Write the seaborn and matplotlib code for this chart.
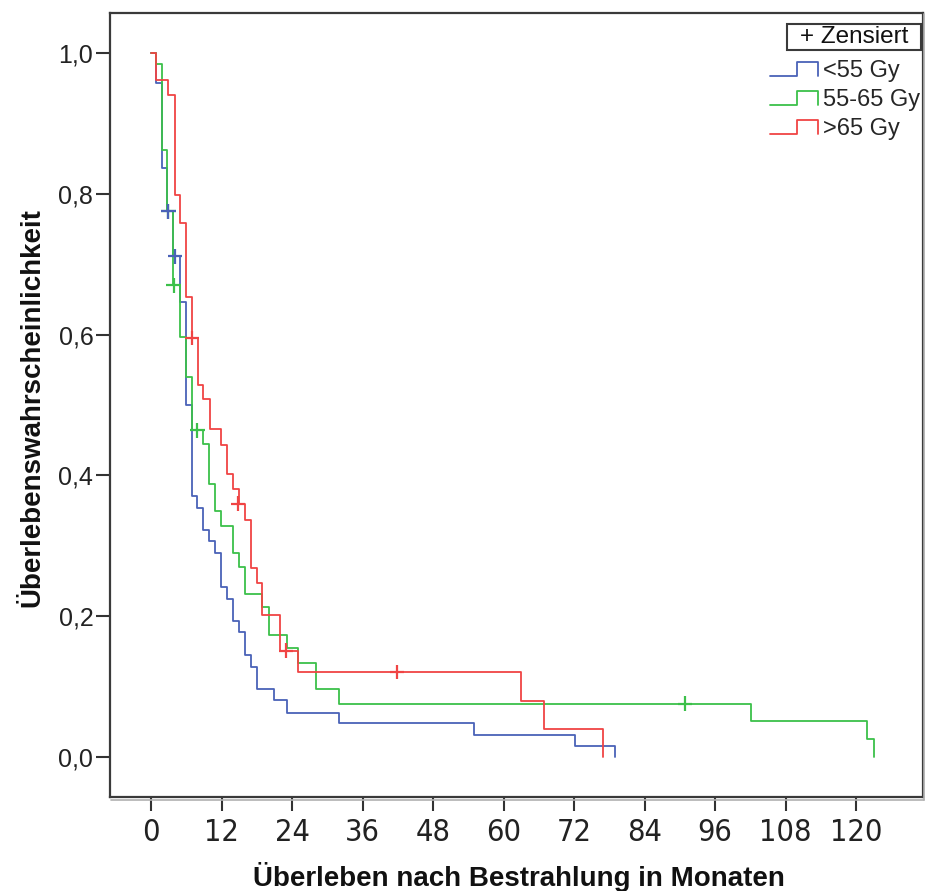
import numpy as np
import pandas as pd
import matplotlib
matplotlib.use("Agg")
import matplotlib.pyplot as plt
import seaborn as sns
from matplotlib import font_manager as fm
from matplotlib.lines import Line2D
from matplotlib.patches import Rectangle
from matplotlib.legend_handler import HandlerBase

# Kaplan-Meier step values per dose group (month of step, survival after step)
groups = ["<55 Gy", "55-65 Gy", ">65 Gy"]
colors = ["#4a62b8", "#3cc04a", "#f04444"]

low_months = [0, 0.85, 1.8, 2.7, 3.8, 4.9, 6.0, 7.0, 7.9, 8.9, 9.9, 10.9, 11.9,
              12.9, 13.9, 15.0, 16.0, 17.0, 18.0, 20.9, 23.1, 32.0, 55.0, 72.1, 79.0]
low_surv = [1.0, 0.957, 0.836, 0.775, 0.711, 0.647, 0.500, 0.371, 0.354, 0.322,
            0.307, 0.290, 0.242, 0.225, 0.193, 0.177, 0.145, 0.128, 0.097, 0.081,
            0.063, 0.048, 0.031, 0.015, 0.0]

mid_months = [0, 0.8, 1.9, 2.8, 3.75, 4.9, 6.0, 6.9, 8.9, 9.9, 10.9, 11.9, 13.9,
              15.0, 16.0, 18.9, 20.0, 23.1, 25.1, 28.0, 32.0, 102.1, 121.9, 123.0]
mid_surv = [1.0, 0.985, 0.862, 0.775, 0.670, 0.597, 0.540, 0.464, 0.445, 0.388,
            0.349, 0.328, 0.290, 0.270, 0.232, 0.213, 0.174, 0.155, 0.134, 0.096,
            0.076, 0.051, 0.025, 0.0]

high_months = [0, 0.9, 2.9, 4.0, 5.0, 6.0, 7.0, 8.05, 8.9, 10.0, 11.9, 13.0, 13.9,
               15.0, 16.0, 17.0, 18.0, 18.9, 21.96, 25.0, 62.9, 66.9, 77.0]
high_surv = [1.0, 0.961, 0.940, 0.798, 0.758, 0.654, 0.595, 0.528, 0.508, 0.466,
             0.443, 0.402, 0.380, 0.360, 0.337, 0.269, 0.247, 0.202, 0.151, 0.121,
             0.080, 0.040, 0.0]

# Censored observations per group
low_cens_months = [2.95, 4.1]
low_cens_surv = [0.775, 0.711]
mid_cens_months = [2.95, 3.85, 7.9, 90.9]
mid_cens_surv = [0.775, 0.670, 0.464, 0.076]
high_cens_months = [7.0, 14.8, 23.0, 41.9]
high_cens_surv = [0.595, 0.360, 0.151, 0.121]

x_ticks = [0, 12, 24, 36, 48, 60, 72, 84, 96, 108, 120]
y_ticks = [0.0, 0.2, 0.4, 0.6, 0.8, 1.0]
y_tick_labels = ["0,0", "0,2", "0,4", "0,6", "0,8", "1,0"]

curves = pd.concat([
    pd.DataFrame({"Monate": m, "Überleben": s, "Gruppe": g})
    for m, s, g in [(low_months, low_surv, groups[0]),
                    (mid_months, mid_surv, groups[1]),
                    (high_months, high_surv, groups[2])]
], ignore_index=True)

# middle group first so the blue crosses sit on top where they coincide
censored = pd.concat([
    pd.DataFrame({"Monate": m, "Überleben": s, "Gruppe": g})
    for m, s, g in [(mid_cens_months, mid_cens_surv, groups[1]),
                    (low_cens_months, low_cens_surv, groups[0]),
                    (high_cens_months, high_cens_surv, groups[2])]
], ignore_index=True)

sns.set_style("white")
plt.rcParams["font.family"] = ["Liberation Sans", "DejaVu Sans"]


def condensed_font(size):
    """Pick a narrow sans face for the month labels, if one is installed."""
    preferred = ["Liberation Sans Narrow", "Arimo", "Liberation Sans", "Noto Sans",
                 "DejaVu Sans", "Open Sans", "Roboto"]
    narrow_names = {"condensed", "semi-condensed", "extra-condensed"}
    for name in preferred:
        for f in fm.fontManager.ttflist:
            if f.name != name or f.style != "normal":
                continue
            if f.weight not in (400, "normal", "regular", "book"):
                continue
            if name.endswith("Narrow") or str(f.stretch) in narrow_names:
                return fm.FontProperties(fname=f.fname, size=size)
    return fm.FontProperties(family="Liberation Sans", size=size - 2)


palette = dict(zip(groups, colors))

fig = plt.figure(figsize=(9.25, 8.91), dpi=100)
ax = fig.add_axes([110 / 925, 94 / 891, 813 / 925, 784 / 891])

sns.lineplot(data=curves, x="Monate", y="Überleben", hue="Gruppe", palette=palette,
             drawstyle="steps-post", estimator=None, sort=False, lw=1.3,
             legend=False, ax=ax)
sns.scatterplot(data=censored, x="Monate", y="Überleben", hue="Gruppe",
                palette=palette, marker="+", s=110, linewidth=1.6,
                legend=False, ax=ax, zorder=3)

ax.set_xlim(-6.98, 131.4)
ax.set_ylim(-0.0568, 1.0568)
ax.set_xticks(x_ticks)
ax.set_xticklabels([str(t) for t in x_ticks])
for lab in ax.get_xticklabels():
    lab.set_fontproperties(condensed_font(22))
ax.set_yticks(y_ticks)
ax.set_yticklabels(y_tick_labels, fontsize=18)
ax.tick_params(axis="both", direction="out", length=10, width=1.5,
               color="#333333", labelcolor="#222222",
               bottom=True, left=True, top=False, right=False)
ax.tick_params(axis="y", pad=2)
ax.tick_params(axis="x", pad=5)

for side in ["left", "right", "top", "bottom"]:
    ax.spines[side].set_visible(True)
    ax.spines[side].set_color("#3a3a3a")
    ax.spines[side].set_linewidth(1.6)

# light shadow line along the right and bottom of the frame
shadow = dict(color="#b0b0b0", lw=1.2, transform=fig.transFigure, clip_on=False)
fig.add_artist(Line2D([111 / 925, 924 / 925], [1 - 800 / 891] * 2, **shadow))
fig.add_artist(Line2D([924 / 925] * 2, [1 - 14 / 891, 1 - 800 / 891], **shadow))

ax.set_xlabel("Überleben nach Bestrahlung in Monaten", fontsize=20,
              fontweight="bold", color="#111111")
ax.set_ylabel("Überlebenswahrscheinlichkeit", fontsize=20,
              fontweight="bold", color="#111111")
ax.xaxis.set_label_coords(0.503, -0.083)
ax.yaxis.set_label_coords(-0.08, 0.497)


class StepHandle(HandlerBase):
    """Legend key drawn as a small step outline."""

    def create_artists(self, legend, orig_handle, xdescent, ydescent,
                       width, height, fontsize, trans):
        x0, y0 = -xdescent, -ydescent
        xm = x0 + 0.55 * width
        xs = [x0, xm, xm, x0 + width, x0 + width]
        ys = [y0, y0, y0 + height, y0 + height, y0]
        line = Line2D(xs, ys, color=orig_handle.get_color(),
                      lw=orig_handle.get_linewidth(), transform=trans)
        return [line]


handles = [Line2D([], [], color=c, lw=1.3) for c in colors]
fig.legend(handles, groups, handler_map={Line2D: StepHandle()},
           loc="upper left", bbox_to_anchor=(770 / 925, 1 - 60 / 891),
           frameon=False, fontsize=17, handlelength=2.05, handleheight=0.55,
           handletextpad=0.2, labelspacing=0.3, borderpad=0, borderaxespad=0)

# censoring key in its own box
fig.add_artist(Rectangle((787 / 925, 1 - 50 / 891), 134 / 925, 26 / 891,
                         transform=fig.transFigure, fc="white", ec="#3a3a3a",
                         lw=1.5, zorder=5))
fig.text(800 / 925, 1 - 37 / 891, "+ Zensiert", ha="left", va="center",
         fontsize=17.5, color="#111111", zorder=6)

fig.savefig("out.png", dpi=100)
